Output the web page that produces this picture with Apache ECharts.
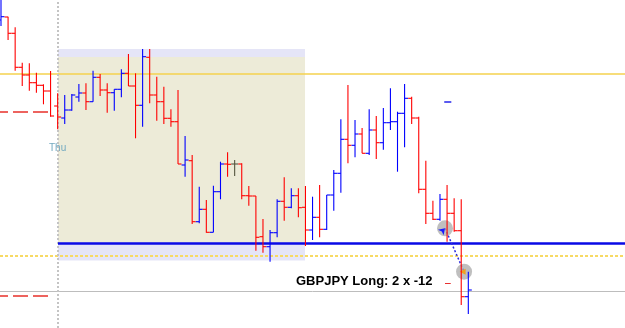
<!DOCTYPE html>
<html><head><meta charset="utf-8">
<script src="https://cdn.jsdelivr.net/npm/echarts/dist/echarts.min.js"></script>
<style>html,body{margin:0;padding:0;background:#fff}#c{width:625px;height:328px}</style>
</head><body><div id="c"></div>
<script>
// OHLC bars, one per bar slot (index = time slot)
const openP  = [129.800,129.830,129.667,129.327,129.250,129.173,129.147,129.090,128.940,128.820,
                128.900,129.030,129.070,128.983,129.227,129.100,129.073,129.107,129.267,129.140,
                128.947,129.427,129.050,128.983,128.817,128.783,128.350,128.393,127.783,127.907,
                127.677,128.083,128.360,128.360,128.360,128.043,128.040,127.633,127.533,127.673,
                127.987,127.927,128.043,127.927,127.700,127.827,127.707,128.050,128.267,128.607,
                128.547,128.660,128.467,128.700,128.573,128.773,128.783,128.867,129.017,128.820,
                128.107,127.867,127.807,128.007,127.867,127.693,127.033];
const highP  = [130.030,129.833,129.727,129.373,129.367,129.273,129.157,129.290,129.067,129.050,
                129.060,129.160,129.167,129.293,129.260,129.167,129.107,129.307,129.460,129.267,
                129.510,129.510,129.233,129.133,128.907,129.100,128.640,128.450,128.133,128.000,
                128.143,128.383,128.477,128.400,128.367,128.140,128.040,127.810,127.700,128.007,
                128.227,128.117,128.117,128.140,128.033,128.150,128.050,128.300,128.807,129.150,
                128.800,128.720,128.907,128.840,128.920,129.117,128.883,129.160,129.033,128.833,
                128.393,127.993,128.060,128.150,128.017,128.007,127.283];
const lowP   = [129.740,129.600,129.293,129.140,129.093,129.073,128.957,128.833,128.707,128.760,
                128.893,128.983,128.900,128.983,129.040,128.873,128.893,129.027,129.140,128.617,
                128.733,128.967,128.793,128.760,128.733,128.360,128.233,127.760,127.767,127.673,
                127.677,128.007,128.233,128.240,128.007,127.943,127.493,127.473,127.383,127.627,
                127.793,127.917,127.827,127.540,127.600,127.627,127.700,127.893,128.073,128.367,
                128.427,128.467,128.450,128.410,128.503,128.700,128.283,128.527,128.760,128.067,
                127.760,127.800,127.793,127.583,127.683,126.950,126.860];
const closeP = [129.833,129.667,129.327,129.250,129.173,129.147,129.090,128.840,128.830,128.900,
                129.050,129.070,128.983,129.227,129.100,129.073,129.107,129.267,129.140,128.947,
                129.433,129.050,128.983,128.817,128.783,128.360,128.400,127.783,127.907,127.677,
                128.083,128.360,128.357,128.360,128.043,128.040,127.627,127.533,127.673,127.987,
                127.927,128.043,127.923,127.700,127.827,127.707,128.050,128.267,128.607,128.547,
                128.660,128.467,128.700,128.573,128.773,128.783,128.867,129.017,128.820,128.107,
                127.867,127.807,128.007,127.867,127.693,127.033,127.100];

// price levels / objects
const zoneStart = 8.05, zoneEnd = 42.94;
const outerZone = [129.510, 127.395];
const innerZone = [129.430, 127.575];
const yellowLevel = 129.267;
const blueLevel = 127.570;
const dottedLevel = 127.440;
const grayLevel = 127.090;
const redLevels = [128.883, 127.047];
const redLevelEnd = 7.06;
const entryPoint = [62.71, 127.717];
const exitPoint = [65.40, 127.283];
const blueMark = [[62.6, 63.6], 128.98];
const redMark = [[62.71, 63.52], 127.167];
const tradeLabel = 'GBPJPY Long: 2 x -12';
const dayLabel = 'Thu';

const RED = '#ff0000', BLUE = '#0000ff', DOJI = '#55553f';
const ohlc = openP.map((o, i) => [i, o, highP[i], lowP[i], closeP[i]]);

const chart = echarts.init(document.getElementById('c'));
const noSym = ['none', 'none'];
chart.setOption({
  animation: false,
  backgroundColor: '#ffffff',
  grid: {left: 0, right: 0, top: 0, bottom: 0},
  xAxis: {type: 'value', min: -0.141, max: 88.13, show: false},
  yAxis: {type: 'value', min: 126.72, max: 130.00, show: false},
  series: [
    {
      type: 'line', data: [], z: 1, silent: true,
      markArea: {silent: true, itemStyle: {color: '#e5e5f7'},
        data: [[{coord: [zoneStart, outerZone[0]]}, {coord: [zoneEnd, outerZone[1]]}]]}
    },
    {
      type: 'line', data: [], z: 2, silent: true,
      markArea: {silent: true, itemStyle: {color: '#edebd8'},
        data: [[{coord: [zoneStart, innerZone[0]]}, {coord: [zoneEnd, innerZone[1]]}]]}
    },
    {
      type: 'line', data: [], z: 3, silent: true,
      markLine: {
        silent: true, symbol: noSym, label: {show: false}, animation: false,
        data: [
          [{coord: [-0.141, yellowLevel], lineStyle: {color: '#f5d24e', width: 1.5, type: 'solid'}}, {coord: [88.13, yellowLevel]}],
          [{coord: [-0.141, dottedLevel], lineStyle: {color: '#f7da64', width: 2, type: [3, 2]}}, {coord: [88.13, dottedLevel]}],
          [{coord: [-0.141, grayLevel], lineStyle: {color: '#bdbdbd', width: 1, type: 'solid'}}, {coord: [88.13, grayLevel]}],
          [{coord: [-0.141, redLevels[0]], lineStyle: {color: '#e8302a', width: 1.5, type: [15, 5], dashOffset: 7}}, {coord: [redLevelEnd, redLevels[0]]}],
          [{coord: [-0.141, redLevels[1]], lineStyle: {color: '#e8302a', width: 1.5, type: [15, 5], dashOffset: 7}}, {coord: [redLevelEnd, redLevels[1]]}],
          [{coord: [zoneStart, 126.72], lineStyle: {color: '#c4c4c4', width: 2, type: [2, 2]}}, {coord: [zoneStart, 130.0]}],
          [{coord: [zoneStart, blueLevel], lineStyle: {color: '#0a0ae6', width: 2.5, type: 'solid'}}, {coord: [88.13, blueLevel]}]
        ]
      }
    },
    {
      type: 'custom', z: 5, silent: true,
      data: ohlc,
      encode: {x: 0, y: [1, 2, 3, 4]},
      renderItem: function (params, api) {
        const k = params.dataIndex;
        const o = openP[k], h = highP[k], l = lowP[k], c = closeP[k];
        const po = api.coord([k, o]), ph = api.coord([k, h]), pl = api.coord([k, l]), pc = api.coord([k, c]);
        const x = po[0];
        const col = c > o ? BLUE : (c < o ? RED : DOJI);
        const mk = () => ({stroke: col, lineWidth: 1.1, fill: 'none', opacity: 1});
        return {type: 'group', children: [
          {type: 'line', shape: {x1: x, y1: ph[1], x2: x, y2: pl[1]}, style: mk()},
          {type: 'line', shape: {x1: x - 3.5, y1: po[1], x2: x, y2: po[1]}, style: mk()},
          {type: 'line', shape: {x1: x, y1: pc[1], x2: x + 3.5, y2: pc[1]}, style: mk()}
        ]};
      }
    },
    {
      type: 'line', data: [], z: 6, silent: true,
      markLine: {
        silent: true, symbol: noSym, label: {show: false},
        data: [
          [{coord: entryPoint, lineStyle: {color: '#2a2ae0', width: 1.5, type: [2, 2]}}, {coord: exitPoint}],
          [{coord: [blueMark[0][0], blueMark[1]], lineStyle: {color: '#5a5af0', width: 2, type: 'solid'}}, {coord: [blueMark[0][1], blueMark[1]]}],
          [{coord: [redMark[0][0], redMark[1]], lineStyle: {color: '#e83030', width: 1, type: 'solid'}}, {coord: [redMark[0][1], redMark[1]]}]
        ]
      },
      markPoint: {
        silent: true, label: {show: false},
        data: [
          {coord: entryPoint, symbol: 'circle', symbolSize: 16, itemStyle: {color: 'rgba(170,170,170,0.75)'}},
          {coord: exitPoint, symbol: 'circle', symbolSize: 16, itemStyle: {color: 'rgba(170,170,170,0.75)'}},
          {coord: entryPoint, symbol: 'arrow', symbolSize: 6, symbolRotate: -45, itemStyle: {color: '#1a1aff'}},
          {coord: [exitPoint[0] - 0.2, exitPoint[1]], symbol: 'triangle', symbolSize: 6, symbolRotate: 90, itemStyle: {color: '#f0a020'}}
        ]
      }
    }
  ],
  graphic: [
    {type: 'text', left: 49, top: 143, z: 100, zlevel: 1, style: {text: dayLabel, fill: '#74aac0', font: '10px "Liberation Sans", Arial, sans-serif'}},
    {type: 'text', left: 296, top: 275, z: 100, zlevel: 1, style: {text: tradeLabel, fill: '#000000', font: 'bold 13px "Liberation Sans", Arial, sans-serif'}}
  ]
});
</script>
</body></html>
